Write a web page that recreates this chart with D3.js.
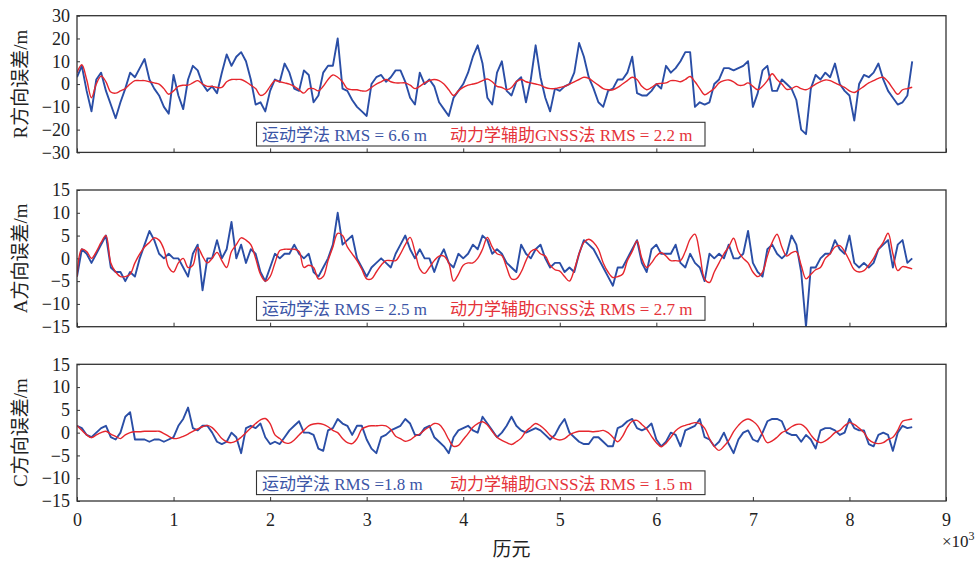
<!DOCTYPE html>
<html lang="zh">
<head>
  <meta charset="UTF-8">
  <title>RAC方向误差</title>
  <script src="https://d3js.org/d3.v7.min.js"></script>
  <style>
    body {
      margin: 0;
      background: #fff;
    }
    svg {
      display: block;
      font-family: "Liberation Serif", "Times New Roman", "Noto Sans CJK SC", serif;
    }
  </style>
</head>
<body>
  <svg width="980" height="563"></svg>

  <script>
    // one sample every 50 epochs, starting at epoch 0
    const epochStep = 50;

    // R direction
    const rBlue = [
      3, 8, -3, -12, 2, 5, -3, -9, -15, -8,
      -2, 5, 3, 7, 11, 2, -2, -5, -10, -13,
      4, -5, -11, 2, 8, 6, 0, -3, -1, -4,
      5, 13, 8, 12, 14, 10, 2, -9, -8, -12,
      -3, 2, 1, 9, 5, -2, -3, 6, 4, -8,
      -5, 5, 8, 8, 20, -2, -3, -7, -10, -12,
      -14, 0, 3, 4, 1, 3, 6, 6, 1, -6,
      -9, 5, 0, 2, -1, -8, -11, -14, -6, -3,
      0, 5, 12, 17, 9, -6, -9, 5, 10, -3,
      -5, 1, 3, -8, 2, 17, 3, -6, -12, -2,
      -3, -1, 0, 5, 18, 12, 3, -2, -8, -10,
      -3, -2, 2, 2, 5, 12, -4, -5, -5, -3,
      0, -2, 8, 5, 7, 10, 14, 14, -10, -8,
      -9, -8, 0, 2, 7, 7, 6, 7, 8, 10,
      -10, -4, 6, 8, -3, -3, 2, 0, -2, -7,
      -20, -22, -2, 4, 2, 5, 3, 9, 0, -3,
      -5, -16, 0, 4, 3, 5, 9, 2, -3, -6,
      -9, -8, -5, 10
    ];
    const rRed = [
      5, 8.5, 2, -6, 0, 3.5, 1, -3.5, -4, -3,
      -2, 0, 1.5, 1.5, 1.5, 1, 0.5, 0, -2, -4.5,
      -3, -1, -0.5, -0.5, 0.5, 1.5, 0, -1, -1, -1.5,
      -1.5, 1, 2, 2, 2, 1, -0.5, -2, -5, -4,
      -1, 1.5, 1, 0.5, 0, -1, -2.5, -4, -2, -2,
      -3, -1, 2, 4, 3, 1, -2, -2.5, -2.5, -3,
      -3, -1.5, 0, 1, 2, 1, 0.5, 0.5, 0.5, -0.5,
      -2, -1, 0.5, 1.5, 2, 1.5, 0, -2.5, -5, -3,
      -1.5, -0.5, 0, 0.5, 1.5, 2.2, 1, -1, -1.5, -2.5,
      -1.5, 1, 2, 1, 0.5, 0, -0.5, -1.5, -2, -2,
      -1.5, -1, 0, 1, 2, 3, 2.5, 1, -0.5, -2,
      -2.5, -2.5, -1.5, 0, 1.5, 3, 2, -1, -2.5, -1.5,
      0, 0.3, 0.5, 1.5, 1.5, 1, 2, 3.3, 1, -2,
      -4.7, -3.5, -2, 0.5, 1.5, 1.8, 1, -0.5, -0.5, 0.5,
      -1, -2.5, -1, 1.5, 4.5, 2, 0, -2.3, -2, -1,
      -2, -2.5, -1.5, 0, 1, 1.8, 1.5, 0.5, -0.5, -1.5,
      -3, -3.7, -2.5, -1, 0.5, 1.5, 2.5, 3, 1, -2,
      -4.5, -2.5, -2, -1.4
    ];

    // A direction
    const aBlue = [
      -4, 2, 1, -1, 1, 3, 5, -2, -3, -3,
      -5, -3, -4, 0, 3, 6, 4, 1, 0, 1,
      0, 0, -2, -4, 1, 3, -7, 0, 0, 4,
      0, 2, 8, 0, 3, -1, 2, 1, -3, -5,
      -2, 1, 0, 1, 1, 3, 1, 0, 1, -3,
      -4, -2, 0, 3, 10, 3, 4, 5, 0, -2,
      -4, -2, -1, 0, -1, -2, 1, 3, 5, 2,
      0, 2, 0, 0, -3, 0, 2, -1, -2, 1,
      0, 1, 3, 2, 5, 4, 1, 2, 1, -1,
      -2, -3, 3, 1, 0, 2, 3, 0, -2, -1,
      -1, -3, -2, -3, 1, 4, 3, 2, 0, -2,
      -4, -6, -2, -2, 0, 2, 4, -1, -3, 2,
      3, 1, 1, 1, 3, -1, -2, 1, -1, -2,
      -5, 1, 0, 1, 0, 3, 0, 0, 1, 6,
      -1, -3, -4, 2, 3, 1, 0, 1, 5, 3,
      -3, -15, -2, -2, 0, 1, 1, 4, 2, 1,
      5, -1, -2, -1, -2, -1, 2, 3, 4, -2,
      3, 4, -1, 0
    ];
    const aRed = [
      -4, 2, 1.5, 0, 1.5, 3.5, 5, -1, -3, -4,
      -4, -3.5, -1, 1, 2.5, 3.5, 4.5, 4, 2, -2,
      -3, -1, 0, -2, -1.5, 2.4, 0.5, -1, 0, 1.3,
      -0.5, -2, 1.5, 3, 4.5, 4, 3, 0, -3.5, -5,
      -4, -1, 1.7, 2, 2, 2, 1.5, -2, -1.5, -2,
      -4.5, -4, -0.5, 2.5, 5.5, 5, 2.5, 1, -0.5, -2.4,
      -4.5, -4.5, -3, -1.5, -0.5, -0.5, -0.5, 1, 3, 4.6,
      1.5, -2.3, -3.3, -2, -0.5, 0.5, 0.5, -1, -5, -3.5,
      -1.5, -1, -1, 0, 2, 4.6, 2.5, 1, 0.6, -2,
      -4.5, -4.5, -3, -0.5, 1.5, 2, 1, 0.5, -1.5, -2.5,
      -2.8, -4, -5, -2.5, 1, 3.5, 4.2, 3.5, 2, -1,
      -3, -4.2, -4, -3.5, -0.5, 1.5, 3.8, 0, -2, -1,
      0.5, 1.3, 0.5, -0.5, -0.5, -0.5, 1.5, 4.2, 5.3, 1,
      -4.5, -5.3, -3, -1, 1, 2.5, 4.4, 1.5, 0, -1,
      -3, -4, -3, 0.5, 3.5, 5.3, 2.5, 0.5, 1.2, 1.5,
      -1.5, -4.5, -3.5, -2.5, -2, 0, 1, 2.5, 2.8, 1.5,
      -0.5, -2.5, -3, -2.7, -1.5, 0, 2, 3.5, 5.5, 1,
      -2.7, -1.8, -2, -2.3
    ];

    // C direction
    const cBlue = [
      1.5, 1, -0.5, -1, 0, 1, 1.5, -1, -1.5, 0,
      3.5, 4.5, -1.5, -1.5, -1.5, -2, -1.5, -1.5, -2, -1.5,
      -1, 1.5, 3, 5.5, 1, 0.5, 1.5, 1.5, 0, -2,
      -2.5, -2, 0, -1, -4.5, 1, 1.5, 1, 2, -1,
      -2.5, -2, -2.5, -1, 0.5, 1.5, 2.5, 0, 0, -0.5,
      -3.5, -4, 0.5, 1, 3, 2, 1.5, -0.5, 1.5, 1.5,
      -1.5, -3.5, -4.5, -1, -0.5, 0.5, 1, 1.5, 3, 2,
      -0.5, -0.5, 1, 1.5, -1, -2, -3, -4.5, -1, 0.5,
      1, 1.5, 0.5, 0, 3.5, 2, 0.5, -1, 0, 1.5,
      3.5, 1.5, 0.5, 0, 0.5, 1, 0.5, -0.5, -1.5, -0.5,
      1.5, 3, 0, -1, -2, -2.5, -2.5, -1, -1, -2,
      -3, -3, 1, 1.5, 2.5, 3, 1, 0.5, 1, 2,
      -1.5, -3, -2, 0, -0.5, -3, 0.5, 1, 1.5, 3,
      -1, -1.5, -3, -2, 0, -2.5, -4.5, -1.5, 0, 0.5,
      -1.5, -2, 0, 2.5, 3, 3, 2.5, 0, -0.5, -0.5,
      -2, -0.5, -1.5, -3.5, 0.5, 1, 1, 0.5, -0.5, 0,
      3, 1, 0.5, 0.5, -2.5, -3, -0.5, 0, -0.5, -4,
      0, 1.5, 1, 1.2
    ];
    const cRed = [
      1.6, 0.5, -0.5, -1.1, -0.5, 0, 0.3, -0.3, -0.8, -1.3,
      -0.5, 0, 0.2, 0.2, 0.3, 0.3, 0.3, 0.3, -0.2, -0.8,
      -1.3, -1.2, -0.8, -0.3, 0.3, 0.8, 1.3, 1.6, 1.1, 0,
      -1.3, -2, -2.2, -1.8, -1, 0, 1, 2, 2.8, 3.1,
      2, -0.5, -1.3, -2.2, -2.3, -1.6, -0.5, 0.5, 1.5, 1.9,
      2, 1.8, 1.3, 0.5, 0, -1.3, -2.2, -2.4, -1.3, 0.8,
      1.3, 1.5, 1.5, 1.6, 1.5, 0.7, -0.8, -1.3, -1.9, -1.6,
      -0.8, -0.3, 0.6, 1.3, 2, 1.8, 0.5, -1.5, -3, -2.8,
      -1.5, -0.2, 1.2, 2, 2.4, 1.7, 0.3, -1, -1.7, -2.2,
      -2.6, -2, -1.2, 0.3, 1.2, 2, 1.5, 0.6, -0.6, -1.3,
      -1.6, -1.3, -0.5, 0, 0.3, 0.3, 0.3, 0.2, 0.3, 0.5,
      0, -1, -2, -0.8, 1.2, 2.5, 2.7, 1.8, 0.8, -0.8,
      -2.2, -3.1, -2.3, -1, 0.4, 1.2, 1.6, 1.9, 2.2, 2,
      1, -1.3, -3, -3.9, -3, -1.7, 0.2, 1.6, 2.6, 3,
      2.5, 1.5, -0.5, -2.2, -1.8, -1, 0, 0.5, 1.3, 1.8,
      1.8, 1, -0.5, -1.7, -2.2, -1.8, -1, 0, 0.5, 1.5,
      2.2, 1.8, 1, 0, -1.5, -2.2, -2.4, -2.2, -1.5, -1,
      0.5, 2.5, 2.8, 3
    ];

    const yLabels = ["R方向误差/m", "A方向误差/m", "C方向误差/m"];
    const yDomains = [[-30, 30], [-15, 15], [-15, 15]];
    const yTicks = [
      [-30, -20, -10, 0, 10, 20, 30],
      [-15, -10, -5, 0, 5, 10, 15],
      [-15, -10, -5, 0, 5, 10, 15]
    ];
    const xTicks = [0, 1, 2, 3, 4, 5, 6, 7, 8, 9];
    const blueLegend = ["运动学法 RMS = 6.6 m", "运动学法 RMS = 2.5 m", "运动学法 RMS =1.8 m"];
    const redLegend = ["动力学辅助GNSS法 RMS = 2.2 m", "动力学辅助GNSS法 RMS = 2.7 m", "动力学辅助GNSS法 RMS = 1.5 m"];

    const blueSeries = [rBlue, aBlue, cBlue];
    const redSeries = [rRed, aRed, cRed];

    const blue = "#2a4ea6";
    const red = "#e6262d";
    const ink = "#222";
    const serif = "Liberation Serif, Times New Roman, serif";

    const svg = d3.select("svg");
    const left = 77, right = 946;
    const panelTop = 15.7, panelStep = 174.3, panelH = 136.7;

    const x = d3.scaleLinear().domain([0, 9]).range([left, right]);
    const epochK = i => i * epochStep / 1000;

    yLabels.forEach((label, p) => {
      const top = panelTop + p * panelStep;
      const y = d3.scaleLinear().domain(yDomains[p]).range([top + panelH, top]);
      const g = svg.append("g");

      const clipId = "clip" + p;
      g.append("clipPath").attr("id", clipId)
        .append("rect")
        .attr("x", left).attr("y", top)
        .attr("width", right - left).attr("height", panelH);

      // x ticks (inside, labels only on the last panel)
      const xAxis = d3.axisBottom(x)
        .tickValues(xTicks)
        .tickSizeInner(-4)
        .tickSizeOuter(0)
        .tickPadding(12)
        .tickFormat(p === 2 ? d3.format("d") : "");
      const xg = g.append("g")
        .attr("transform", `translate(0,${top + panelH})`)
        .call(xAxis)
        .attr("font-family", serif);
      xg.select(".domain").remove();
      xg.selectAll(".tick line").attr("stroke", "#333");
      xg.selectAll("text").attr("font-size", 18).attr("fill", ink);

      // y ticks
      const yAxis = d3.axisLeft(y)
        .tickValues(yTicks[p])
        .tickSizeInner(-3)
        .tickSizeOuter(0)
        .tickPadding(7);
      const yg = g.append("g")
        .attr("transform", `translate(${left},0)`)
        .call(yAxis)
        .attr("font-family", serif);
      yg.select(".domain").remove();
      yg.selectAll(".tick line").attr("stroke", "#333");
      yg.selectAll("text").attr("font-size", 18).attr("fill", ink);

      // lines
      const lineBlue = d3.line()
        .x((d, i) => x(epochK(i)))
        .y(d => y(d));
      const lineRed = d3.line()
        .x((d, i) => x(epochK(i)))
        .y(d => y(d))
        .curve(d3.curveCatmullRom.alpha(0.5));

      const plot = g.append("g").attr("clip-path", `url(#${clipId})`);
      plot.append("path")
        .datum(blueSeries[p])
        .attr("d", lineBlue)
        .attr("fill", "none")
        .attr("stroke", blue)
        .attr("stroke-width", 1.9)
        .attr("stroke-linejoin", "round");
      plot.append("path")
        .datum(redSeries[p])
        .attr("d", lineRed)
        .attr("fill", "none")
        .attr("stroke", red)
        .attr("stroke-width", 1.4);

      // frame
      g.append("rect")
        .attr("x", left).attr("y", top)
        .attr("width", right - left).attr("height", panelH)
        .attr("fill", "none")
        .attr("stroke", "#333")
        .attr("stroke-width", 1.3);

      // legend box
      g.append("rect")
        .attr("x", 256.5).attr("y", top + 106.6)
        .attr("width", 448.5).attr("height", 23.7)
        .attr("fill", "#fff")
        .attr("stroke", "#333")
        .attr("stroke-width", 1.1);
      g.append("text")
        .attr("x", 262).attr("y", top + 125.3)
        .attr("font-size", 17)
        .attr("fill", "#3b55a6")
        .text(blueLegend[p]);
      g.append("text")
        .attr("x", 450).attr("y", top + 125.3)
        .attr("font-size", 17)
        .attr("fill", "#e5333a")
        .text(redLegend[p]);

      // y label
      g.append("text")
        .attr("transform", `translate(20,${top + panelH / 2}) rotate(-90)`)
        .attr("text-anchor", "middle")
        .attr("dominant-baseline", "central")
        .attr("font-size", 19)
        .attr("fill", ink)
        .text(label);
    });

    // x axis title and exponent
    svg.append("text")
      .attr("x", (left + right) / 2).attr("y", 556)
      .attr("text-anchor", "middle")
      .attr("font-size", 19)
      .attr("fill", ink)
      .text("历元");

    const expo = svg.append("text")
      .attr("x", 942).attr("y", 547)
      .attr("font-size", 17)
      .attr("fill", ink);
    expo.append("tspan").text("×10");
    expo.append("tspan").attr("dy", -7).attr("font-size", 12).text("3");
  </script>
</body>
</html>
